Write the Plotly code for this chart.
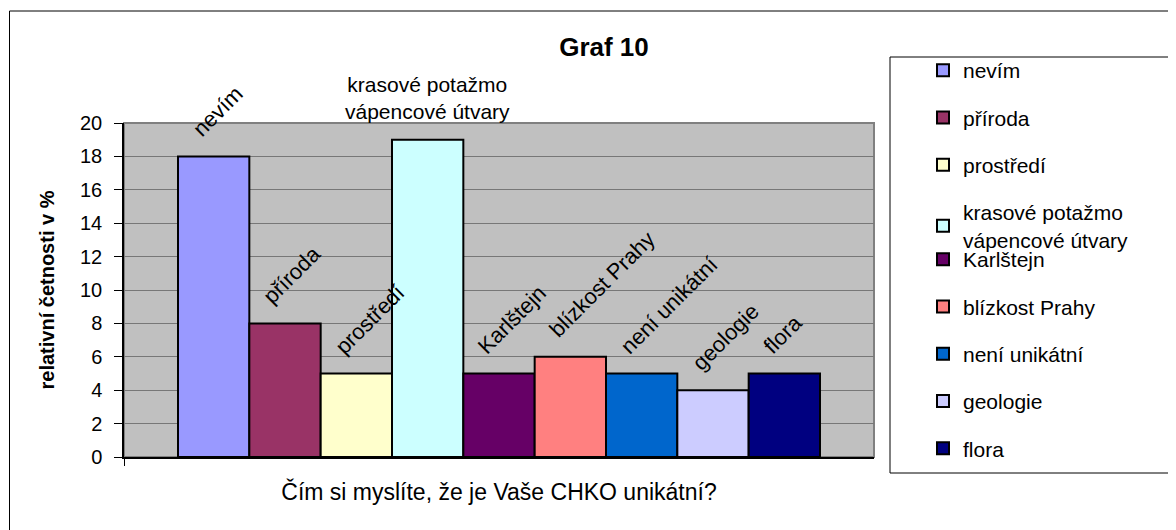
import plotly.graph_objects as go

# data
kategorie = ["nevím", "příroda", "prostředí", "krasové potažmo<br>vápencové útvary",
             "Karlštejn", "blízkost Prahy", "není unikátní", "geologie", "flora"]
hodnoty = [18, 8, 5, 19, 5, 6, 5, 4, 5]
barvy = ["#9999FF", "#993366", "#FFFFCC", "#CCFFFF", "#660066",
         "#FF8080", "#0066CC", "#CCCCFF", "#000080"]
y_ticks = [0, 2, 4, 6, 8, 10, 12, 14, 16, 18, 20]

FONT = "Liberation Sans, Arial, sans-serif"

# stranka ma 8px okraj (body margin), proto je figura o 8px mensi
OFF = 8
W, H = 1176 - OFF, 530 - OFF
# plocha grafu v pixelech obrazku: x 124..874, y 123..457
L, R, T, B = 124, 874, 123, 457


def px(x):
    return (x - L) / (R - L)


def py(y):
    return (B - y) / (B - T)


fig = go.Figure()

for i, (kat, val, col) in enumerate(zip(kategorie, hodnoty, barvy)):
    fig.add_trace(go.Bar(
        x=[i], y=[val], width=1, name=kat,
        marker=dict(color=col, line=dict(color="black", width=2)),
        legendgroup=f"g{i}",
        legend="legend" if i < 4 else "legend2",
        hovertemplate=f"{kat}: %{{y}}<extra></extra>",
    ))
    # popisek nad sloupcem
    if "<br>" in kat:
        fig.add_annotation(x=i, y=val, text=kat, showarrow=False,
                           xanchor="center", yanchor="bottom", yshift=15,
                           font=dict(family=FONT, size=21, color="black"))
    else:
        fig.add_annotation(x=i, y=val, text=kat, showarrow=False, textangle=-45,
                           xanchor="left", yanchor="bottom", xshift=-29, yshift=12,
                           font=dict(family=FONT, size=22, color="black"))

# vnejsi ramecek grafu + ramecek legendy + ramecek plochy
fig.add_shape(type="rect", xref="paper", yref="paper",
              x0=px(9.5), x1=px(1600), y0=py(700), y1=py(11),
              line=dict(color="black", width=1), layer="below")
fig.add_shape(type="rect", xref="paper", yref="paper",
              x0=px(890), x1=px(1600), y0=py(473), y1=py(57),
              line=dict(color="black", width=1), fillcolor="white", layer="below")
fig.add_shape(type="rect", xref="paper", yref="paper",
              x0=0, x1=1, y0=0, y1=1,
              line=dict(color="#808080", width=2), layer="below")

fig.update_layout(
    width=W, height=H,
    margin=dict(l=L - OFF, r=W - (R - OFF), t=T - OFF, b=H - (B - OFF)),
    paper_bgcolor="white",
    plot_bgcolor="#C0C0C0",
    barmode="overlay",
    font=dict(family=FONT, size=20, color="black"),
    title=dict(text="<b>Graf 10</b>", xref="paper", x=px(604),
               y=1 - (47 - OFF) / H, xanchor="center", yanchor="middle",
               font=dict(family=FONT, size=26, color="black")),
    xaxis=dict(range=[-1.257, 9.257], showgrid=False, zeroline=False,
               showline=True, linecolor="black", linewidth=1.5,
               tickvals=[-1.257], ticks="outside", ticklen=7, tickcolor="black",
               showticklabels=False,
               title=dict(text="Čím si myslíte, že je Vaše CHKO unikátní?",
                          font=dict(size=23), standoff=19)),
    yaxis=dict(range=[0, 20], tickvals=y_ticks, showgrid=True,
               gridcolor="#777777", gridwidth=1, zeroline=False,
               showline=True, linecolor="black", linewidth=1.5,
               ticks="outside", ticklen=8, tickcolor="black",
               tickfont=dict(size=20), ticklabelstandoff=8,
               title=dict(text="<b>relativní četnosti v %</b>",
                          font=dict(size=20), standoff=20)),
    legend=dict(x=px(923), y=py(50), xanchor="left", yanchor="top",
                bgcolor="rgba(0,0,0,0)", borderwidth=0,
                traceorder="grouped", tracegroupgap=17,
                font=dict(family=FONT, size=21)),
    legend2=dict(x=px(923), y=py(239), xanchor="left", yanchor="top",
                 bgcolor="rgba(0,0,0,0)", borderwidth=0,
                 traceorder="grouped", tracegroupgap=17,
                 font=dict(family=FONT, size=21)),
)

fig.write_html("out.html")
